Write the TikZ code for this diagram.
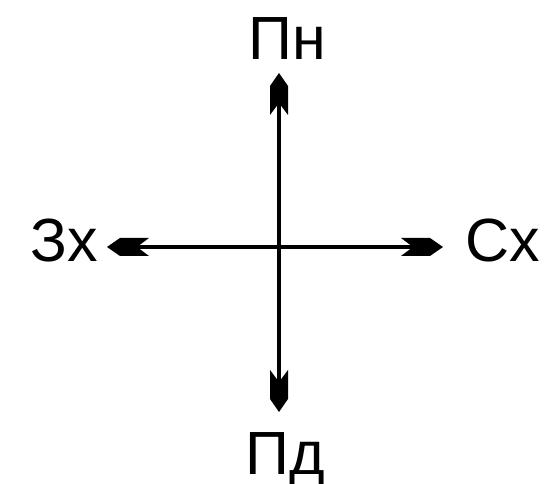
\documentclass[tikz,border=0pt]{standalone}
\usepackage{fontspec}
\setmainfont{Liberation Sans}
\usetikzlibrary{arrows.meta}
\pgfdeclarearrow{
  name = Dart,
  setup code = {
    \pgfarrowssettipend{0pt}
    \pgfarrowssetlineend{-28pt}
    \pgfarrowssetvisualbackend{-28pt}
    \pgfarrowshullpoint{0pt}{0pt}
    \pgfarrowshullpoint{-42pt}{9pt}
    \pgfarrowshullpoint{-42pt}{-9pt}
    \pgfarrowshullpoint{-13pt}{9pt}
    \pgfarrowshullpoint{-13pt}{-9pt}
  },
  drawing code = {
    \pgfpathmoveto{\pgfpointorigin}
    \pgfpathlineto{\pgfpoint{-13pt}{9pt}}
    \pgfpathlineto{\pgfpoint{-42pt}{9pt}}
    \pgfpathlineto{\pgfpoint{-30pt}{0pt}}
    \pgfpathlineto{\pgfpoint{-42pt}{-9pt}}
    \pgfpathlineto{\pgfpoint{-13pt}{-9pt}}
    \pgfpathclose
    \pgfusepathqfill
  },
}
\tikzset{
  axis/.style={line width=3.5pt, draw=black, {Dart}-{Dart}},
  lbl/.style={inner sep=0pt, font=\fontsize{61}{61}\selectfont, text=black},
}
\begin{document}
\begin{tikzpicture}[x=1pt,y=1pt]
  \useasboundingbox (0,0) rectangle (547,484);
  \fill[white] (0,0) rectangle (547,484);
  \coordinate (n) at (279,411);
  \coordinate (s) at (279,72);
  \coordinate (w) at (107,237);
  \coordinate (e) at (443,237);
  \draw[axis] (w) -- (e);
  \draw[axis] (s) -- (n);
  \node[lbl, anchor=base west] (pn) at (248,424) {Пн};
  \node[lbl, anchor=base west] (pd) at (245,9) {Пд};
  \node[lbl, anchor=base west] (zx) at (30,222) {Зх};
  \node[lbl, anchor=base west] (sx) at (465,222) {Сх};
\end{tikzpicture}
\end{document}
